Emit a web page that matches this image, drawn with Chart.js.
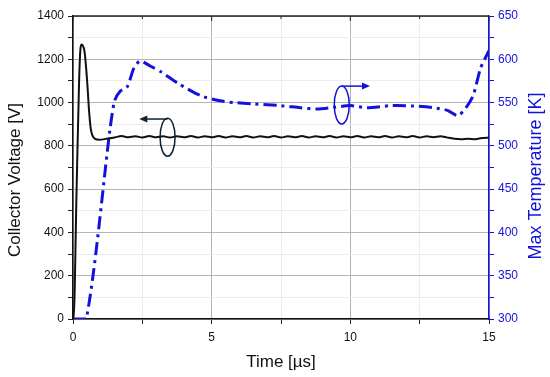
<!DOCTYPE html>
<html><head><meta charset="utf-8">
<script src="https://cdn.jsdelivr.net/npm/chart.js@4/dist/chart.umd.min.js"></script>
<style>html,body{margin:0;padding:0;background:#fff}#wrap{width:550px;height:377px;position:relative}</style>
</head><body><div id="wrap"><canvas id="c" width="550" height="377"></canvas></div>
<script>
// ---- data ----
const timeV = [0,0.02,0.13,0.22,0.27,0.31,0.36,0.41,0.46,0.52,0.58,0.64,0.7,0.8,0.95,1.1,
 1.25,1.5,1.75,2,2.25,2.5,2.75,3,3.25,3.5,3.75,4,4.25,4.5,4.75,5,5.25,5.5,5.75,6,6.25,6.5,6.75,7,
 7.25,7.5,7.75,8,8.25,8.5,8.75,9,9.25,9.5,9.75,10,10.25,10.5,10.75,11,11.25,11.5,11.75,12,12.25,12.5,
 12.75,13,13.25,13.5,13.75,14,14.25,14.5,14.75,15];
const voltage = [0,0,600,1100,1250,1268,1262,1240,1180,1080,960,880,848,832,828,830,
 834,839,845,840,844,839,845,840,844,839,844,840,845,839,844,840,845,839,844,840,845,839,844,840,
 845,839,844,840,845,839,844,840,845,839,844,840,845,839,844,840,845,839,844,840,845,839,
 844,840,844,838,833,831,833,831,836,838];
const timeT = [0,0.48,1.33,1.5,1.7,1.95,2.2,2.42,2.8,3.2,3.8,4.6,5.3,5.8,6.5,7.5,8.2,8.8,9.4,10.0,10.6,11.5,12.3,13.0,13.5,13.9,14.4,14.7,15.0];
const temperature = [300,300,518,552,563,568,590,598,592,585,572,558,552,550,548.5,546.5,544,542.5,544.5,546.5,544,546.5,546,544,541,535,556,590,610];
const xTickLabels = ['0','5','10','15'];
const titles = {x:'Time [µs]', y:'Collector Voltage [V]', y2:'Max Temperature [K]'};
// annotation markers (data units: time, voltage)
const leftMarker = {t:3.41, v:840, arrowTo:2.39, arrowV:924};
const rightMarker = {t:9.69, v:989, arrowTo:10.71, arrowV:1076};

const BLUE = '#1212dd';
const FONT = "'Liberation Sans', Arial, sans-serif";

const decor = {
  id:'decor',
  afterDatasetsDraw(chart){
    const {ctx, chartArea:a, scales:{x,y}} = chart;
    ctx.save();
    // top frame and mirror ticks
    ctx.strokeStyle = '#222'; ctx.lineWidth = 1.5;
    ctx.beginPath(); ctx.moveTo(a.left, a.top); ctx.lineTo(a.right, a.top); ctx.stroke();
    ctx.lineWidth = 1;
    for (let v = 0; v <= 15; v += 2.5) {
      const px = x.getPixelForValue(v);
      ctx.beginPath(); ctx.moveTo(px, a.top); ctx.lineTo(px, a.top + (v % 5 === 0 ? 5 : 3)); ctx.stroke();
    }
    function marker(m, color, dir){
      const cx = x.getPixelForValue(m.t), cy = y.getPixelForValue(m.v);
      const ay = y.getPixelForValue(m.arrowV), ax = x.getPixelForValue(m.arrowTo);
      ctx.strokeStyle = color; ctx.fillStyle = color; ctx.lineWidth = 1.5;
      ctx.beginPath(); ctx.ellipse(cx, cy, 7.5, 19, 0, 0, Math.PI*2); ctx.stroke();
      ctx.beginPath(); ctx.moveTo(cx, ay); ctx.lineTo(ax - dir*6, ay); ctx.stroke();
      ctx.beginPath(); ctx.moveTo(ax, ay); ctx.lineTo(ax - dir*8, ay - 3.5); ctx.lineTo(ax - dir*8, ay + 3.5); ctx.closePath(); ctx.fill();
    }
    marker(leftMarker, '#0d2230', -1);
    marker(rightMarker, BLUE, 1);
    // axis titles
    ctx.textAlign = 'center'; ctx.textBaseline = 'middle';
    ctx.fillStyle = '#111'; ctx.font = '17px ' + FONT;
    ctx.fillText(titles.x, (a.left + a.right) / 2, 362);
    ctx.save(); ctx.translate(15, 180); ctx.rotate(-Math.PI/2); ctx.fillText(titles.y, 0, 0); ctx.restore();
    ctx.fillStyle = BLUE; ctx.font = '18px ' + FONT;
    ctx.save(); ctx.translate(536, 176); ctx.rotate(-Math.PI/2); ctx.fillText(titles.y2, 0, 0); ctx.restore();
    ctx.restore();
  }
};

new Chart(document.getElementById('c'), {
  type:'line',
  data:{datasets:[
    {label:'Collector Voltage', data: timeV.map((t,i)=>({x:t,y:voltage[i]})), yAxisID:'y',
     borderColor:'#111', borderWidth:2, pointRadius:0, cubicInterpolationMode:'monotone', fill:false},
    {label:'Max Temperature', data: timeT.map((t,i)=>({x:t,y:temperature[i]})), yAxisID:'y2',
     borderColor:BLUE, borderWidth:3, borderDash:[13,5,3,5], pointRadius:0, tension:0.25, fill:false}
  ]},
  options:{
    responsive:false, animation:false, devicePixelRatio:1,
    layout:{padding:{top:16,left:0,right:0,bottom:0}},
    plugins:{legend:{display:false}, tooltip:{enabled:false}},
    scales:{
      x:{type:'linear', min:0, max:15,
        ticks:{stepSize:2.5, color:'#111', font:{family:FONT,size:12}, padding:6, maxRotation:0,
          callback:(v)=> (v%5===0 ? xTickLabels[v/5] : '')},
        grid:{color:(c)=> (c.tick && c.tick.value%5===0 ? '#b4b4b4' : '#ececec'), tickLength:5, tickColor:'#222'},
        border:{color:'#111', width:1.5},
        afterFit:(s)=>{s.height = 58;}
      },
      y:{type:'linear', position:'left', min:0, max:1400,
        ticks:{stepSize:100, color:'#111', font:{family:FONT,size:12}, padding:4,
          callback:(v)=> (v%200===0 ? String(v) : '')},
        grid:{color:(c)=> (c.tick && c.tick.value%200===0 ? '#b4b4b4' : '#ececec'), tickLength:5, tickColor:'#222'},
        border:{color:'#111', width:1.5},
        afterFit:(s)=>{s.width = 73;}
      },
      y2:{type:'linear', position:'right', min:300, max:650,
        ticks:{stepSize:25, color:BLUE, font:{family:FONT,size:12}, padding:4,
          callback:(v)=> (v%50===0 ? String(v) : '')},
        grid:{drawOnChartArea:false, tickLength:5, tickColor:BLUE},
        border:{color:BLUE, width:1.5},
        afterFit:(s)=>{s.width = 61;}
      }
    }
  },
  plugins:[decor]
});
</script></body></html>
